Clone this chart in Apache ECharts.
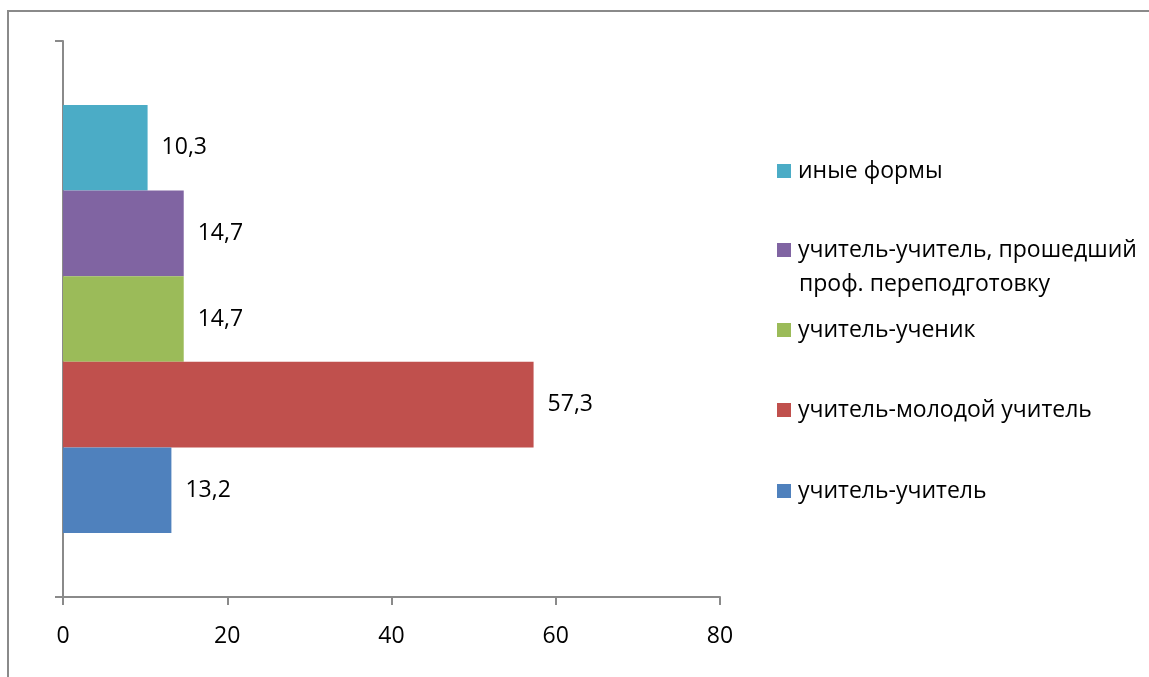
<!DOCTYPE html>
<html>
<head>
<meta charset="utf-8">
<script src="https://cdn.jsdelivr.net/npm/echarts@6/dist/echarts.min.js"></script>
<style>
  html, body { margin: 0; padding: 0; background: #fff; }
  #chart { width: 1149px; height: 677px; }
</style>
</head>
<body>
<div id="chart"></div>
<script>
// данные диаграммы (сверху вниз)
const seriesNames = [
    'иные формы',
    'учитель-учитель, прошедший\nпроф. переподготовку',
    'учитель-ученик',
    'учитель-молодой учитель',
    'учитель-учитель'
];
const seriesValues = [10.3, 14.7, 14.7, 57.3, 13.2];
const seriesColors = ['#4BACC6', '#8064A2', '#9BBB59', '#C0504D', '#4F81BD'];
const categories = [''];
const xTicks = [0, 20, 40, 60, 80];

const legendCenters = [171, 250, 330, 410, 491];
const FONT = '"Open Sans", sans-serif';
const FS = 23;

function initChart() {
    const chart = echarts.init(document.getElementById('chart'));

    const series = seriesNames.map(function (name, i) {
        return {
            name: name,
            type: 'bar',
            barGap: '0%',
            barCategoryGap: '23%',
            itemStyle: { color: seriesColors[i] },
            label: {
                show: true,
                position: 'right',
                distance: 14,
                color: '#000',
                fontFamily: FONT,
                fontSize: FS,
                formatter: function (p) {
                    return String(p.value).replace('.', ',');
                }
            },
            data: [seriesValues[i]]
        };
    });

    // отдельная легенда на каждый ряд, чтобы расставить как в оригинале
    const legends = seriesNames.map(function (name, i) {
        return {
            orient: 'vertical',
            left: 777,
            top: legendCenters[i] - 14,
            padding: 0,
            itemWidth: 14,
            itemHeight: 14,
            icon: 'rect',
            selectedMode: false,
            data: [name],
            formatter: function (n) { return n.split('\n')[0]; },
            textStyle: {
                color: '#000',
                fontFamily: FONT,
                fontSize: FS,
                lineHeight: 28,
                padding: [0, 0, 0, 2]
            }
        };
    });

    const secondLine = seriesNames[1].split('\n')[1];

    const option = {
        backgroundColor: '#fff',
        animation: false,
        grid: {
            left: 63,
            right: 429,
            top: 41,
            bottom: 80
        },
        legend: legends,
        graphic: [
            {
                type: 'rect',
                shape: { x: 8, y: 11, width: 1300, height: 800 },
                style: { fill: 'none', stroke: '#8a8a8a', lineWidth: 2 },
                silent: true
            },
            {
                type: 'text',
                left: 799,
                top: 284 - 14,
                style: {
                    text: secondLine,
                    fill: '#000',
                    font: FS + 'px ' + FONT,
                    lineHeight: 28
                }
            }
        ],
        xAxis: {
            type: 'value',
            min: xTicks[0],
            max: xTicks[xTicks.length - 1],
            interval: xTicks[1] - xTicks[0],
            splitLine: { show: false },
            axisLine: { show: true, lineStyle: { color: '#8a8a8a', width: 2 } },
            axisTick: { show: true, length: 8, lineStyle: { color: '#8a8a8a', width: 2 } },
            axisLabel: {
                margin: 28,
                color: '#000',
                fontFamily: FONT,
                fontSize: FS
            }
        },
        yAxis: {
            type: 'category',
            data: categories,
            axisLine: { show: true, lineStyle: { color: '#8a8a8a', width: 2 } },
            axisTick: { show: true, length: 8, lineStyle: { color: '#8a8a8a', width: 2 } },
            axisLabel: { show: false }
        },
        series: series
    };
    chart.setOption(option);
}

initChart();
</script>
</body>
</html>
